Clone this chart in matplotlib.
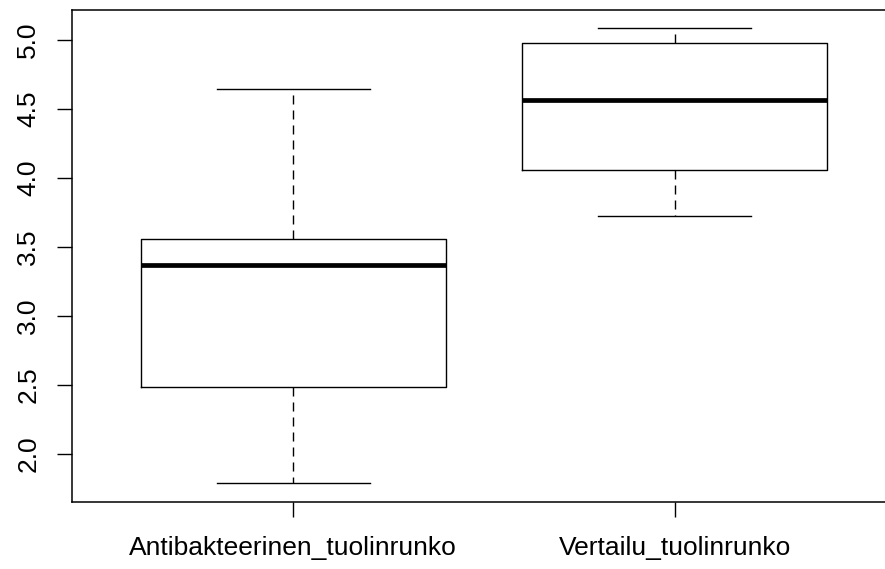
import numpy as np
import matplotlib
matplotlib.use("Agg")
import matplotlib.pyplot as plt

# five-number summaries
groups = ["Antibakteerinen_tuolinrunko", "Vertailu_tuolinrunko"]
whisker_low = [1.784, 3.725]
q1 = [2.480, 4.058]
median = [3.369, 4.568]
q3 = [3.554, 4.976]
whisker_high = [4.641, 5.085]

yticks = [2.0, 2.5, 3.0, 3.5, 4.0, 4.5, 5.0]

plt.rcParams['font.family'] = ['Liberation Sans', 'DejaVu Sans']

fig = plt.figure(figsize=(8.85, 5.69), dpi=100)
# R style: right border falls just outside the image
ax = fig.add_axes([72 / 885, 67.3 / 569, 824 / 885, 491.7 / 569])

stats = []
for i, name in enumerate(groups):
    stats.append(dict(label=name, whislo=whisker_low[i], q1=q1[i], med=median[i],
                      q3=q3[i], whishi=whisker_high[i], fliers=[]))

ax.bxp(stats, positions=[1, 2], widths=0.8, showfliers=False,
       boxprops=dict(color='black', linewidth=1.0),
       medianprops=dict(color='black', linewidth=3.4, solid_capstyle='butt'),
       whiskerprops=dict(color='black', linewidth=1.0, linestyle=(0, (6.5, 4.3))),
       capprops=dict(color='black', linewidth=1.0),
       capwidths=0.4)

# R's 4 % axis extension
lo, hi = min(whisker_low), max(whisker_high)
pad = 0.04 * (hi - lo)
ax.set_ylim(lo - pad, hi + pad)
ax.set_xlim(0.42, 2.58)

ax.set_yticks(yticks)
ax.set_yticklabels([f"{v:.1f}" for v in yticks], rotation=90, va='center')
ax.set_xticks([1, 2])
ax.set_xticklabels(groups)

ax.tick_params(axis='both', length=10.8, width=1.0, color='black', labelsize=19)
ax.tick_params(axis='y', pad=12)
ax.tick_params(axis='x', pad=14)

for s in ax.spines.values():
    s.set_linewidth(1.1)
    s.set_color('black')

fig.savefig("out.png", dpi=100)
